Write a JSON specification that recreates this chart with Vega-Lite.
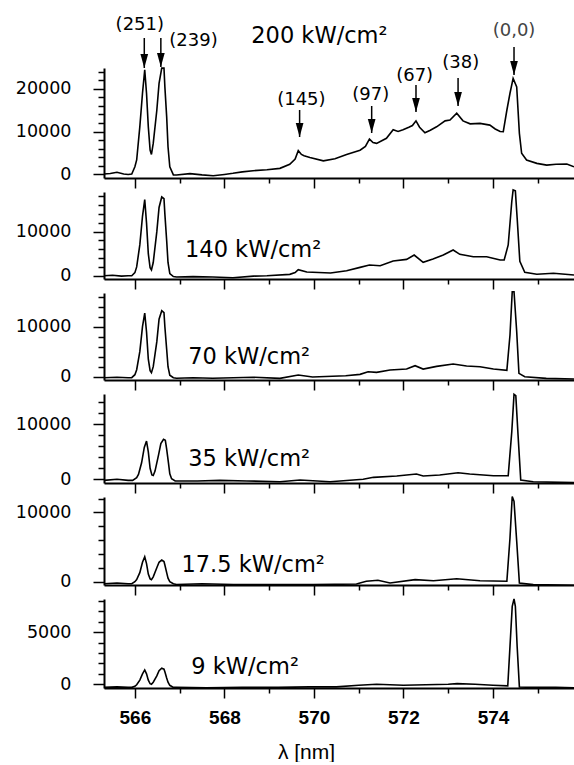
{
"$schema": "https://vega.github.io/schema/vega-lite/v6.json",
"padding": {"left": 15, "top": 15, "right": 0, "bottom": 0},
"config": {"view": {"stroke": null}, "axis": {"domainColor": "black", "domainWidth": 2, "tickColor": "black", "tickWidth": 1.5, "grid": false, "labelColor": "black", "labelOverlap": false, "labelFlush": false, "title": null}},
"datasets": {
"spec": [
{"p":1,"x":565.31,"y":0},{"p":1,"x":565.45,"y":100},{"p":1,"x":565.60,"y":400},{"p":1,"x":565.75,"y":0},{"p":1,"x":565.85,"y":-100},{"p":1,"x":565.93,"y":0},{"p":1,"x":566.00,"y":1700},{"p":1,"x":566.04,"y":3300},{"p":1,"x":566.11,"y":11100},{"p":1,"x":566.17,"y":19000},{"p":1,"x":566.22,"y":24500},{"p":1,"x":566.26,"y":19000},{"p":1,"x":566.30,"y":11100},{"p":1,"x":566.34,"y":5650},{"p":1,"x":566.37,"y":4600},{"p":1,"x":566.41,"y":7200},{"p":1,"x":566.49,"y":15000},{"p":1,"x":566.54,"y":21300},{"p":1,"x":566.60,"y":24900},{"p":1,"x":566.65,"y":24900},{"p":1,"x":566.67,"y":20500},{"p":1,"x":566.71,"y":13500},{"p":1,"x":566.74,"y":6400},{"p":1,"x":566.78,"y":1700},{"p":1,"x":566.86,"y":-200},{"p":1,"x":566.93,"y":-240},{"p":1,"x":567.23,"y":100},{"p":1,"x":567.50,"y":-200},{"p":1,"x":567.75,"y":-400},{"p":1,"x":568.00,"y":-100},{"p":1,"x":568.19,"y":160},{"p":1,"x":568.40,"y":500},{"p":1,"x":568.64,"y":780},{"p":1,"x":568.95,"y":1000},{"p":1,"x":569.24,"y":1330},{"p":1,"x":569.46,"y":2300},{"p":1,"x":569.58,"y":3500},{"p":1,"x":569.65,"y":5500},{"p":1,"x":569.72,"y":4600},{"p":1,"x":569.78,"y":4300},{"p":1,"x":569.91,"y":3900},{"p":1,"x":570.21,"y":3100},{"p":1,"x":570.47,"y":3600},{"p":1,"x":570.73,"y":4600},{"p":1,"x":571.03,"y":5600},{"p":1,"x":571.15,"y":6500},{"p":1,"x":571.24,"y":8200},{"p":1,"x":571.32,"y":7400},{"p":1,"x":571.40,"y":7200},{"p":1,"x":571.62,"y":8400},{"p":1,"x":571.77,"y":10400},{"p":1,"x":571.88,"y":10000},{"p":1,"x":571.99,"y":10400},{"p":1,"x":572.12,"y":11000},{"p":1,"x":572.20,"y":11400},{"p":1,"x":572.28,"y":12500},{"p":1,"x":572.36,"y":11000},{"p":1,"x":572.48,"y":9700},{"p":1,"x":572.60,"y":10300},{"p":1,"x":572.74,"y":11100},{"p":1,"x":572.93,"y":12500},{"p":1,"x":573.04,"y":12700},{"p":1,"x":573.19,"y":14300},{"p":1,"x":573.33,"y":12500},{"p":1,"x":573.49,"y":11800},{"p":1,"x":573.71,"y":11900},{"p":1,"x":573.93,"y":11500},{"p":1,"x":574.05,"y":10600},{"p":1,"x":574.16,"y":10000},{"p":1,"x":574.23,"y":9950},{"p":1,"x":574.31,"y":15000},{"p":1,"x":574.38,"y":19000},{"p":1,"x":574.45,"y":22500},{"p":1,"x":574.53,"y":20500},{"p":1,"x":574.59,"y":9570},{"p":1,"x":574.64,"y":4870},{"p":1,"x":574.75,"y":3300},{"p":1,"x":574.98,"y":2500},{"p":1,"x":575.20,"y":2100},{"p":1,"x":575.41,"y":2300},{"p":1,"x":575.65,"y":2350},{"p":1,"x":575.81,"y":1700},
{"p":2,"x":565.31,"y":0},{"p":2,"x":565.50,"y":100},{"p":2,"x":565.70,"y":-100},{"p":2,"x":565.85,"y":0},{"p":2,"x":565.93,"y":0},{"p":2,"x":566.00,"y":700},{"p":2,"x":566.04,"y":2000},{"p":2,"x":566.11,"y":7000},{"p":2,"x":566.17,"y":13500},{"p":2,"x":566.22,"y":17300},{"p":2,"x":566.26,"y":12000},{"p":2,"x":566.30,"y":5000},{"p":2,"x":566.34,"y":1800},{"p":2,"x":566.37,"y":1300},{"p":2,"x":566.41,"y":3000},{"p":2,"x":566.49,"y":10000},{"p":2,"x":566.54,"y":15500},{"p":2,"x":566.60,"y":17900},{"p":2,"x":566.65,"y":17500},{"p":2,"x":566.67,"y":14000},{"p":2,"x":566.71,"y":8000},{"p":2,"x":566.74,"y":3000},{"p":2,"x":566.78,"y":500},{"p":2,"x":566.86,"y":-200},{"p":2,"x":566.93,"y":-300},{"p":2,"x":567.30,"y":-200},{"p":2,"x":567.74,"y":-300},{"p":2,"x":568.19,"y":-450},{"p":2,"x":568.65,"y":-100},{"p":2,"x":568.95,"y":0},{"p":2,"x":569.46,"y":300},{"p":2,"x":569.58,"y":700},{"p":2,"x":569.65,"y":1360},{"p":2,"x":569.84,"y":840},{"p":2,"x":570.37,"y":620},{"p":2,"x":570.73,"y":1130},{"p":2,"x":571.03,"y":1890},{"p":2,"x":571.24,"y":2430},{"p":2,"x":571.48,"y":2270},{"p":2,"x":571.77,"y":3340},{"p":2,"x":572.07,"y":3700},{"p":2,"x":572.24,"y":4700},{"p":2,"x":572.44,"y":3050},{"p":2,"x":572.66,"y":3800},{"p":2,"x":572.89,"y":4700},{"p":2,"x":573.11,"y":5840},{"p":2,"x":573.26,"y":4860},{"p":2,"x":573.56,"y":4320},{"p":2,"x":573.86,"y":4320},{"p":2,"x":574.16,"y":3570},{"p":2,"x":574.25,"y":3570},{"p":2,"x":574.34,"y":6980},{"p":2,"x":574.42,"y":16860},{"p":2,"x":574.45,"y":19500},{"p":2,"x":574.50,"y":19270},{"p":2,"x":574.54,"y":13100},{"p":2,"x":574.60,"y":3250},{"p":2,"x":574.71,"y":780},{"p":2,"x":574.98,"y":320},{"p":2,"x":575.35,"y":540},{"p":2,"x":575.81,"y":160},
{"p":3,"x":565.31,"y":-200},{"p":3,"x":565.60,"y":-100},{"p":3,"x":565.85,"y":-200},{"p":3,"x":565.93,"y":-200},{"p":3,"x":566.00,"y":400},{"p":3,"x":566.04,"y":1400},{"p":3,"x":566.11,"y":5000},{"p":3,"x":566.17,"y":10000},{"p":3,"x":566.22,"y":12700},{"p":3,"x":566.26,"y":9000},{"p":3,"x":566.30,"y":3500},{"p":3,"x":566.34,"y":1200},{"p":3,"x":566.37,"y":800},{"p":3,"x":566.41,"y":2000},{"p":3,"x":566.49,"y":7000},{"p":3,"x":566.54,"y":11500},{"p":3,"x":566.60,"y":13200},{"p":3,"x":566.65,"y":12800},{"p":3,"x":566.67,"y":10000},{"p":3,"x":566.71,"y":5500},{"p":3,"x":566.74,"y":2000},{"p":3,"x":566.78,"y":300},{"p":3,"x":566.86,"y":-200},{"p":3,"x":566.93,"y":-300},{"p":3,"x":567.30,"y":-200},{"p":3,"x":567.74,"y":-300},{"p":3,"x":568.20,"y":-200},{"p":3,"x":568.64,"y":-100},{"p":3,"x":569.24,"y":-330},{"p":3,"x":569.65,"y":330},{"p":3,"x":569.97,"y":-70},{"p":3,"x":570.71,"y":200},{"p":3,"x":571.03,"y":470},{"p":3,"x":571.21,"y":1000},{"p":3,"x":571.40,"y":870},{"p":3,"x":571.70,"y":1330},{"p":3,"x":572.07,"y":1530},{"p":3,"x":572.26,"y":2200},{"p":3,"x":572.44,"y":1530},{"p":3,"x":572.74,"y":2070},{"p":3,"x":573.11,"y":2530},{"p":3,"x":573.41,"y":2130},{"p":3,"x":573.71,"y":2000},{"p":3,"x":574.01,"y":1530},{"p":3,"x":574.31,"y":1270},{"p":3,"x":574.38,"y":8330},{"p":3,"x":574.43,"y":17000},{"p":3,"x":574.47,"y":17000},{"p":3,"x":574.53,"y":9000},{"p":3,"x":574.58,"y":670},{"p":3,"x":574.71,"y":0},{"p":3,"x":575.19,"y":-330},{"p":3,"x":575.81,"y":-470},
{"p":4,"x":565.31,"y":-200},{"p":4,"x":565.60,"y":0},{"p":4,"x":565.85,"y":-200},{"p":4,"x":565.95,"y":-200},{"p":4,"x":566.04,"y":300},{"p":4,"x":566.08,"y":900},{"p":4,"x":566.15,"y":3000},{"p":4,"x":566.21,"y":5800},{"p":4,"x":566.26,"y":6960},{"p":4,"x":566.30,"y":5000},{"p":4,"x":566.34,"y":2000},{"p":4,"x":566.38,"y":800},{"p":4,"x":566.41,"y":700},{"p":4,"x":566.45,"y":1500},{"p":4,"x":566.53,"y":4500},{"p":4,"x":566.58,"y":6500},{"p":4,"x":566.64,"y":7270},{"p":4,"x":566.68,"y":7100},{"p":4,"x":566.71,"y":5500},{"p":4,"x":566.75,"y":3000},{"p":4,"x":566.78,"y":1000},{"p":4,"x":566.82,"y":100},{"p":4,"x":566.90,"y":-300},{"p":4,"x":567.40,"y":-300},{"p":4,"x":567.90,"y":-200},{"p":4,"x":568.50,"y":-300},{"p":4,"x":569.24,"y":-430},{"p":4,"x":569.69,"y":-130},{"p":4,"x":570.36,"y":-430},{"p":4,"x":571.10,"y":0},{"p":4,"x":571.33,"y":360},{"p":4,"x":571.85,"y":600},{"p":4,"x":572.29,"y":960},{"p":4,"x":572.44,"y":600},{"p":4,"x":572.81,"y":780},{"p":4,"x":573.22,"y":1200},{"p":4,"x":573.48,"y":960},{"p":4,"x":574.01,"y":650},{"p":4,"x":574.34,"y":650},{"p":4,"x":574.42,"y":8650},{"p":4,"x":574.47,"y":15450},{"p":4,"x":574.51,"y":15200},{"p":4,"x":574.56,"y":8050},{"p":4,"x":574.62,"y":-130},{"p":4,"x":574.90,"y":-430},{"p":4,"x":575.81,"y":-600},
{"p":5,"x":565.31,"y":-300},{"p":5,"x":565.60,"y":-200},{"p":5,"x":565.85,"y":-300},{"p":5,"x":565.93,"y":-300},{"p":5,"x":566.00,"y":0},{"p":5,"x":566.04,"y":300},{"p":5,"x":566.11,"y":1300},{"p":5,"x":566.17,"y":2800},{"p":5,"x":566.22,"y":3600},{"p":5,"x":566.26,"y":2600},{"p":5,"x":566.30,"y":1100},{"p":5,"x":566.34,"y":400},{"p":5,"x":566.37,"y":300},{"p":5,"x":566.41,"y":700},{"p":5,"x":566.49,"y":2000},{"p":5,"x":566.54,"y":2800},{"p":5,"x":566.60,"y":3130},{"p":5,"x":566.65,"y":2900},{"p":5,"x":566.67,"y":2400},{"p":5,"x":566.71,"y":1300},{"p":5,"x":566.74,"y":500},{"p":5,"x":566.78,"y":0},{"p":5,"x":566.86,"y":-300},{"p":5,"x":566.93,"y":-400},{"p":5,"x":567.50,"y":-300},{"p":5,"x":568.20,"y":-400},{"p":5,"x":568.80,"y":-400},{"p":5,"x":569.24,"y":-430},{"p":5,"x":569.98,"y":-430},{"p":5,"x":570.95,"y":-330},{"p":5,"x":571.17,"y":60},{"p":5,"x":571.43,"y":200},{"p":5,"x":571.70,"y":-190},{"p":5,"x":572.26,"y":290},{"p":5,"x":572.67,"y":140},{"p":5,"x":573.19,"y":430},{"p":5,"x":573.71,"y":140},{"p":5,"x":574.31,"y":60},{"p":5,"x":574.38,"y":6300},{"p":5,"x":574.43,"y":12300},{"p":5,"x":574.47,"y":11600},{"p":5,"x":574.53,"y":5830},{"p":5,"x":574.59,"y":-190},{"p":5,"x":574.90,"y":-430},{"p":5,"x":575.81,"y":-520},
{"p":6,"x":565.31,"y":-300},{"p":6,"x":565.60,"y":-250},{"p":6,"x":565.85,"y":-300},{"p":6,"x":565.93,"y":-300},{"p":6,"x":566.00,"y":-200},{"p":6,"x":566.04,"y":-50},{"p":6,"x":566.11,"y":400},{"p":6,"x":566.17,"y":1000},{"p":6,"x":566.22,"y":1375},{"p":6,"x":566.26,"y":1000},{"p":6,"x":566.30,"y":400},{"p":6,"x":566.34,"y":50},{"p":6,"x":566.37,"y":0},{"p":6,"x":566.41,"y":200},{"p":6,"x":566.49,"y":800},{"p":6,"x":566.54,"y":1300},{"p":6,"x":566.60,"y":1540},{"p":6,"x":566.65,"y":1450},{"p":6,"x":566.67,"y":1200},{"p":6,"x":566.71,"y":600},{"p":6,"x":566.74,"y":200},{"p":6,"x":566.78,"y":-100},{"p":6,"x":566.86,"y":-300},{"p":6,"x":566.93,"y":-300},{"p":6,"x":567.60,"y":-350},{"p":6,"x":568.40,"y":-300},{"p":6,"x":569.20,"y":-300},{"p":6,"x":569.90,"y":-250},{"p":6,"x":570.50,"y":-250},{"p":6,"x":571.00,"y":-100},{"p":6,"x":571.40,"y":0},{"p":6,"x":572.00,"y":-100},{"p":6,"x":572.50,"y":-50},{"p":6,"x":573.00,"y":0},{"p":6,"x":573.20,"y":60},{"p":6,"x":573.60,"y":0},{"p":6,"x":574.00,"y":-100},{"p":6,"x":574.33,"y":-160},{"p":6,"x":574.38,"y":3640},{"p":6,"x":574.43,"y":7500},{"p":6,"x":574.47,"y":8200},{"p":6,"x":574.50,"y":7500},{"p":6,"x":574.54,"y":3640},{"p":6,"x":574.59,"y":-260},{"p":6,"x":574.90,"y":-300},{"p":6,"x":575.40,"y":-300},{"p":6,"x":575.81,"y":-350}
],
"arrows": [
{"x":566.21,"y1":32000,"y2":24940,"t":"(251)","tx":566.11,"ty":35060,"c":"k"},
{"x":566.58,"y1":32000,"y2":25180,"t":"(239)","tx":567.31,"ty":31180,"c":"k"},
{"x":569.68,"y1":15060,"y2":8700,"t":"(145)","tx":569.72,"ty":17410,"c":"k"},
{"x":571.29,"y1":16000,"y2":9650,"t":"(97)","tx":571.27,"ty":18590,"c":"k"},
{"x":572.28,"y1":20940,"y2":14590,"t":"(67)","tx":572.25,"ty":23060,"c":"k"},
{"x":573.22,"y1":22590,"y2":16000,"t":"(38)","tx":573.28,"ty":26000,"c":"k"},
{"x":574.47,"y1":29880,"y2":23290,"t":"(0,0)","tx":574.47,"ty":33650,"c":"g"}
],
"labels": [
{"p":1,"x":568.60,"y":32470,"t":"200 kW/cm²"},
{"p":2,"x":567.12,"y":5840,"t":"140 kW/cm²"},
{"p":3,"x":567.19,"y":4040,"t":"70 kW/cm²"},
{"p":4,"x":567.19,"y":3750,"t":"35 kW/cm²"},
{"p":5,"x":567.04,"y":2410,"t":"17.5 kW/cm²"},
{"p":6,"x":567.26,"y":1690,"t":"9 kW/cm²"}
]
},
"vconcat": [
{"width": 470, "height": 110, "resolve": {"axis": {"x": "independent", "y": "independent"}}, "layer": [
 {"data": {"name": "spec"}, "transform": [{"filter": "datum.p == 1"}], "mark": {"type": "line", "color": "black", "strokeWidth": 1.6},
  "encoding": {
   "x": {"field": "x", "type": "quantitative", "scale": {"domain": [565.31, 575.81], "nice": false, "zero": false}, "axis": {"orient": "bottom", "values": [566,568,570,572,574], "labels": false, "tickSize": 10}},
   "y": {"field": "y", "type": "quantitative", "scale": {"domain": [-940, 24940], "nice": false, "zero": false}, "axis": {"orient": "left", "values": [0,10000,20000], "format": "d", "labelFont": "DejaVu Sans", "labelFontSize": 17.5, "labelPadding": 22, "tickSize": 11}}
  }},
 {"data": {"name": "labels"}, "transform": [{"filter": "datum.p == 1"}], "mark": {"type": "text", "font": "DejaVu Sans", "fontSize": 22.5, "align": "left", "baseline": "middle", "color": "black"},
  "encoding": {"x": {"field": "x", "type": "quantitative", "axis": {"orient": "bottom", "values": [567,569,571,573,575], "labels": false, "tickSize": 5, "domain": false}}, "y": {"field": "y", "type": "quantitative", "axis": {"orient": "left", "values": [2000,4000,6000,8000,12000,14000,16000,18000,22000,24000], "labels": false, "tickSize": 6, "domain": false}}, "text": {"field": "t"}}},
 {"data": {"name": "arrows"}, "mark": {"type": "rule", "color": "black", "strokeWidth": 1.5},
  "encoding": {"x": {"field": "x", "type": "quantitative", "axis": null}, "y": {"field": "y1", "type": "quantitative", "axis": null}, "y2": {"field": "y2"}}},
 {"data": {"name": "arrows"}, "mark": {"type": "point", "shape": "M-0.55,-2L0.55,-2L0,0Z", "filled": true, "color": "black", "opacity": 1, "size": 196, "strokeWidth": 0},
  "encoding": {"x": {"field": "x", "type": "quantitative", "axis": null}, "y": {"field": "y2", "type": "quantitative", "axis": null}}},
 {"data": {"name": "arrows"}, "mark": {"type": "text", "font": "DejaVu Sans", "fontSize": 18, "align": "center", "baseline": "middle"},
  "encoding": {"x": {"field": "tx", "type": "quantitative", "axis": null}, "y": {"field": "ty", "type": "quantitative", "axis": null}, "text": {"field": "t"}, "color": {"field": "c", "type": "nominal", "scale": {"domain": ["k", "g"], "range": ["#000000", "#444444"]}, "legend": null}}}
]},
{"width": 470, "height": 87, "resolve": {"axis": {"x": "independent", "y": "independent"}}, "layer": [
 {"data": {"name": "spec"}, "transform": [{"filter": "datum.p == 2"}], "mark": {"type": "line", "color": "black", "strokeWidth": 1.6},
  "encoding": {
   "x": {"field": "x", "type": "quantitative", "scale": {"domain": [565.31, 575.81], "nice": false, "zero": false}, "axis": {"orient": "bottom", "values": [566,568,570,572,574], "labels": false, "tickSize": 10}},
   "y": {"field": "y", "type": "quantitative", "scale": {"domain": [-750, 19020], "nice": false, "zero": false}, "axis": {"orient": "left", "values": [0,10000], "format": "d", "labelFont": "DejaVu Sans", "labelFontSize": 17.5, "labelPadding": 22, "tickSize": 11}}
  }},
 {"data": {"name": "labels"}, "transform": [{"filter": "datum.p == 2"}], "mark": {"type": "text", "font": "DejaVu Sans", "fontSize": 22.5, "align": "left", "baseline": "middle", "color": "black"},
  "encoding": {"x": {"field": "x", "type": "quantitative", "axis": {"orient": "bottom", "values": [567,569,571,573,575], "labels": false, "tickSize": 5, "domain": false}}, "y": {"field": "y", "type": "quantitative", "axis": {"orient": "left", "values": [2000,4000,6000,8000,12000,14000,16000,18000], "labels": false, "tickSize": 6, "domain": false}}, "text": {"field": "t"}}}
]},
{"width": 470, "height": 87, "resolve": {"axis": {"x": "independent", "y": "independent"}}, "layer": [
 {"data": {"name": "spec"}, "transform": [{"filter": "datum.p == 3"}], "mark": {"type": "line", "color": "black", "strokeWidth": 1.6},
  "encoding": {
   "x": {"field": "x", "type": "quantitative", "scale": {"domain": [565.31, 575.81], "nice": false, "zero": false}, "axis": {"orient": "bottom", "values": [566,568,570,572,574], "labels": false, "tickSize": 10}},
   "y": {"field": "y", "type": "quantitative", "scale": {"domain": [-660, 16740], "nice": false, "zero": false}, "axis": {"orient": "left", "values": [0,10000], "format": "d", "labelFont": "DejaVu Sans", "labelFontSize": 17.5, "labelPadding": 22, "tickSize": 11}}
  }},
 {"data": {"name": "labels"}, "transform": [{"filter": "datum.p == 3"}], "mark": {"type": "text", "font": "DejaVu Sans", "fontSize": 22.5, "align": "left", "baseline": "middle", "color": "black"},
  "encoding": {"x": {"field": "x", "type": "quantitative", "axis": {"orient": "bottom", "values": [567,569,571,573,575], "labels": false, "tickSize": 5, "domain": false}}, "y": {"field": "y", "type": "quantitative", "axis": {"orient": "left", "values": [2000,4000,6000,8000,12000,14000,16000], "labels": false, "tickSize": 6, "domain": false}}, "text": {"field": "t"}}}
]},
{"width": 470, "height": 89, "resolve": {"axis": {"x": "independent", "y": "independent"}}, "layer": [
 {"data": {"name": "spec"}, "transform": [{"filter": "datum.p == 4"}], "mark": {"type": "line", "color": "black", "strokeWidth": 1.6},
  "encoding": {
   "x": {"field": "x", "type": "quantitative", "scale": {"domain": [565.31, 575.81], "nice": false, "zero": false}, "axis": {"orient": "bottom", "values": [566,568,570,572,574], "labels": false, "tickSize": 10}},
   "y": {"field": "y", "type": "quantitative", "scale": {"domain": [-670, 15510], "nice": false, "zero": false}, "axis": {"orient": "left", "values": [0,10000], "format": "d", "labelFont": "DejaVu Sans", "labelFontSize": 17.5, "labelPadding": 22, "tickSize": 11}}
  }},
 {"data": {"name": "labels"}, "transform": [{"filter": "datum.p == 4"}], "mark": {"type": "text", "font": "DejaVu Sans", "fontSize": 22.5, "align": "left", "baseline": "middle", "color": "black"},
  "encoding": {"x": {"field": "x", "type": "quantitative", "axis": {"orient": "bottom", "values": [567,569,571,573,575], "labels": false, "tickSize": 5, "domain": false}}, "y": {"field": "y", "type": "quantitative", "axis": {"orient": "left", "values": [2000,4000,6000,8000,12000,14000], "labels": false, "tickSize": 6, "domain": false}}, "text": {"field": "t"}}}
]},
{"width": 470, "height": 88, "resolve": {"axis": {"x": "independent", "y": "independent"}}, "layer": [
 {"data": {"name": "spec"}, "transform": [{"filter": "datum.p == 5"}], "mark": {"type": "line", "color": "black", "strokeWidth": 1.6},
  "encoding": {
   "x": {"field": "x", "type": "quantitative", "scale": {"domain": [565.31, 575.81], "nice": false, "zero": false}, "axis": {"orient": "bottom", "values": [566,568,570,572,574], "labels": false, "tickSize": 10}},
   "y": {"field": "y", "type": "quantitative", "scale": {"domain": [-480, 12220], "nice": false, "zero": false}, "axis": {"orient": "left", "values": [0,10000], "format": "d", "labelFont": "DejaVu Sans", "labelFontSize": 17.5, "labelPadding": 22, "tickSize": 11}}
  }},
 {"data": {"name": "labels"}, "transform": [{"filter": "datum.p == 5"}], "mark": {"type": "text", "font": "DejaVu Sans", "fontSize": 22.5, "align": "left", "baseline": "middle", "color": "black"},
  "encoding": {"x": {"field": "x", "type": "quantitative", "axis": {"orient": "bottom", "values": [567,569,571,573,575], "labels": false, "tickSize": 5, "domain": false}}, "y": {"field": "y", "type": "quantitative", "axis": {"orient": "left", "values": [2000,4000,6000,8000,12000], "labels": false, "tickSize": 6, "domain": false}}, "text": {"field": "t"}}}
]},
{"width": 470, "height": 89, "resolve": {"axis": {"x": "independent", "y": "independent"}}, "layer": [
 {"data": {"name": "spec"}, "transform": [{"filter": "datum.p == 6"}], "mark": {"type": "line", "color": "black", "strokeWidth": 1.6},
  "encoding": {
   "x": {"field": "x", "type": "quantitative", "scale": {"domain": [565.31, 575.81], "nice": false, "zero": false}, "axis": {"orient": "bottom", "values": [566,568,570,572,574], "format": "d", "labelFont": "Liberation Sans", "labelFontWeight": "bold", "labelFontSize": 19, "labelPadding": 10, "tickSize": 10, "title": "λ  [nm]", "titleFont": "Liberation Sans", "titleFontSize": 21, "titleFontWeight": "normal", "titleColor": "black", "titleX": 202, "titleY": 70, "titleBaseline": "alphabetic", "titleAlign": "center"}},
   "y": {"field": "y", "type": "quantitative", "scale": {"domain": [-360, 8200], "nice": false, "zero": false}, "axis": {"orient": "left", "values": [0,5000], "format": "d", "labelFont": "DejaVu Sans", "labelFontSize": 17.5, "labelPadding": 22, "tickSize": 11}}
  }},
 {"data": {"name": "labels"}, "transform": [{"filter": "datum.p == 6"}], "mark": {"type": "text", "font": "DejaVu Sans", "fontSize": 22.5, "align": "left", "baseline": "middle", "color": "black"},
  "encoding": {"x": {"field": "x", "type": "quantitative", "axis": {"orient": "bottom", "values": [567,569,571,573,575], "labels": false, "tickSize": 5, "domain": false}}, "y": {"field": "y", "type": "quantitative", "axis": {"orient": "left", "values": [1000,2000,3000,4000,6000,7000,8000], "labels": false, "tickSize": 6, "domain": false}}, "text": {"field": "t"}}}
]}
],
"spacing": 14,
"bounds": "flush"
}
